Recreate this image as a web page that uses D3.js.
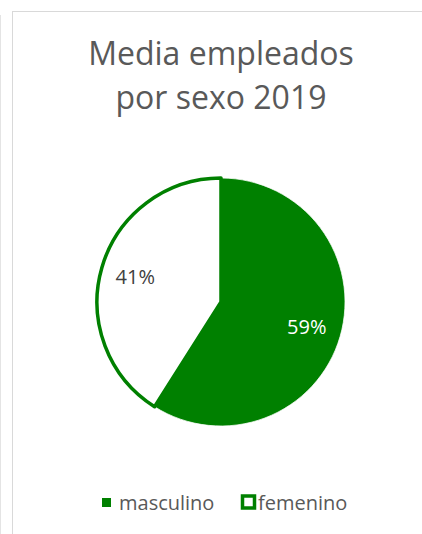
<!DOCTYPE html>
<html>
<head>
<meta charset="utf-8">
<script src="https://cdn.jsdelivr.net/npm/d3@7"></script>
<style>
  body { margin: 0; background: #fff; }
  svg { display: block; font-family: "Open Sans", "Noto Sans", sans-serif; }
</style>
</head>
<body>
<svg id="chart"></svg>
<script>
const titleLines = ["Media empleados", "por sexo 2019"];
const categories = ["masculino", "femenino"];
const values = [59, 41];
const labels = ["59%", "41%"];

const width = 422, height = 534;
const green = "#008000";

const svg = d3.select("#chart")
  .attr("width", width)
  .attr("height", height);

// neighbouring chart edge + chart frame
svg.append("line")
  .attr("x1", 0.5).attr("x2", 0.5)
  .attr("y1", 15).attr("y2", height)
  .attr("stroke", "#e4e4e4");

svg.append("rect")
  .attr("x", 12.5).attr("y", 11.5)
  .attr("width", width).attr("height", height)
  .attr("fill", "#fff")
  .attr("stroke", "#d9d9d9");

// title
svg.append("g")
  .selectAll("text")
  .data(titleLines)
  .join("text")
  .attr("x", 221)
  .attr("y", (d, i) => 65 + i * 44)
  .attr("text-anchor", "middle")
  .attr("fill", "#595959")
  .style("font-size", "32px")
  .text(d => d);

// pie
const cx = 221, cy = 302, r = 124;
const pie = d3.pie().sort(null).value(d => d.value);
const data = categories.map((c, i) => ({ name: c, value: values[i], label: labels[i] }));
const arcs = pie(data);

const arc = d3.arc().innerRadius(0).outerRadius(r);
const labelArc = d3.arc().innerRadius(r * 0.72).outerRadius(r * 0.72);

const g = svg.append("g").attr("transform", `translate(${cx},${cy})`);

g.selectAll("path.slice")
  .data(arcs)
  .join("path")
  .attr("class", "slice")
  .attr("d", arc)
  .attr("fill", d => d.data.name === "masculino" ? green : "#fff")
  .attr("stroke", d => d.data.name === "masculino" ? "#fff" : green)
  .attr("stroke-width", d => d.data.name === "masculino" ? 0.75 : 3.5)
  .attr("stroke-linejoin", "round");

// draw the femenino outline on top
g.selectAll("path.slice").filter(d => d.data.name === "femenino").raise();

g.selectAll("text.lbl")
  .data(arcs)
  .join("text")
  .attr("class", "lbl")
  .attr("transform", d => `translate(${labelArc.centroid(d)})`)
  .attr("text-anchor", "middle")
  .attr("dy", "0.35em")
  .attr("fill", d => d.data.name === "masculino" ? "#fff" : "#404040")
  .style("font-size", "20px")
  .text(d => d.data.label);

// legend
const legend = svg.append("g");
const legendX = [102, 241];
const items = legend.selectAll("g")
  .data(data)
  .join("g")
  .attr("transform", (d, i) => `translate(${legendX[i]},0)`);

items.append("rect")
  .attr("x", d => d.name === "masculino" ? 0 : 1.5)
  .attr("y", d => d.name === "masculino" ? 498 : 496)
  .attr("width", d => d.name === "masculino" ? 9 : 12)
  .attr("height", d => d.name === "masculino" ? 9 : 12)
  .attr("fill", d => d.name === "masculino" ? green : "#fff")
  .attr("stroke", d => d.name === "masculino" ? "none" : green)
  .attr("stroke-width", 3.5);

items.append("text")
  .attr("x", 17)
  .attr("y", 510)
  .attr("fill", "#595959")
  .style("font-size", "20px")
  .text(d => d.name);
</script>
</body>
</html>
